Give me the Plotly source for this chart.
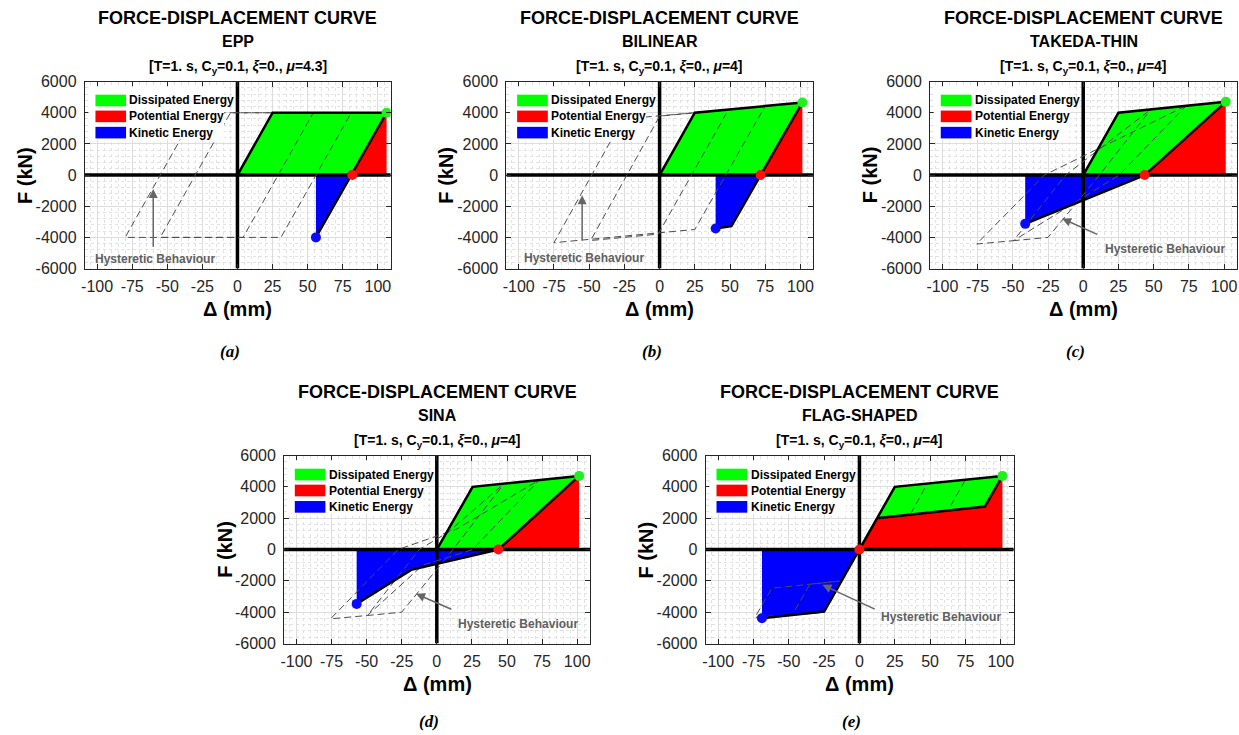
import plotly.graph_objects as go

W, H = 1239, 735
FONT = "Liberation Sans, Arial, Helvetica, sans-serif"
SERIF = "Liberation Serif, Times New Roman, serif"

# ---------------- data ----------------
x_ticks = [-100, -75, -50, -25, 0, 25, 50, 75, 100]
x_ticklabels = ["-100", "-75", "-50", "-25", "0", "25", "50", "75", "100"]
y_ticks = [-6000, -4000, -2000, 0, 2000, 4000, 6000]
y_ticklabels = ["-6000", "-4000", "-2000", "0", "2000", "4000", "6000"]
x_limits = [-108.8, 109.2]
y_limits = [-6000, 6000]

models = ["EPP", "BILINEAR", "TAKEDA-THIN", "SINA", "FLAG-SHAPED"]
mu_values = ["4.3", "4", "4", "4", "4"]
captions = ["(a)", "(b)", "(c)", "(d)", "(e)"]
legend_labels = ["Dissipated Energy", "Potential Energy", "Kinetic Energy"]

# EPP
epp_hyst_d = [0, 25, 54, 4, -55, -5, 81, 31, -80, -30, 25]
epp_hyst_f = [0, 4000, 4000, -4000, -4000, 4000, 4000, -4000, -4000, 4000, 4000]
epp_curve_d = [0, 25, 106.2, 55.9]
epp_curve_f = [0, 4000, 4000, -4000]
epp_diss_d = [0, 25, 106.2, 81.8]
epp_diss_f = [0, 4000, 4000, 0]
epp_pot_d = [81.8, 106.2, 106.2]
epp_pot_f = [0, 4000, 0]
epp_kin_d = [55.9, 81.8, 55.9]
epp_kin_f = [0, 0, -4000]
epp_pts_d = [106.2, 81.8, 55.9]
epp_pts_f = [4000, 0, -4000]

# BILINEAR
bil_hyst_d = [0, 25, 49, -1, -49, 0, 75, 25, -75, -26, 25]
bil_hyst_f = [0, 4000, 4210, -3790, -4200, 3780, 4435, -3490, -4340, 3600, 4000]
bil_curve_d = [0, 25, 101.4, 71.7, 51, 39.8]
bil_curve_f = [0, 4000, 4660, 0, -3277, -3426]
bil_diss_d = [0, 25, 101.4, 71.7]
bil_diss_f = [0, 4000, 4660, 0]
bil_pot_d = [71.7, 101.4, 101.4]
bil_pot_f = [0, 4660, 0]
bil_kin_d = [39.8, 71.7, 51, 39.8]
bil_kin_f = [0, 0, -3277, -3426]
bil_pts_d = [101.4, 71.7, 39.8]
bil_pts_f = [4660, 0, -3426]

# TAKEDA-THIN
tak_hyst_d = [0, 25, 48, 11.5, -25, -49.5, -12.5, 48, 73, 25.5, -49.5, -75.7, -27.6, 73, 101.2]
tak_hyst_f = [0, 4000, 4212, 0, -4000, -4210, 0, 4212, 4442, 0, -4210, -4425, 0, 4442, 4700]
tak_curve_d = [0, 25, 101.2, 43.6, -41.2]
tak_curve_f = [0, 4000, 4700, 0, -3130]
tak_diss_d = [0, 25, 101.2, 43.6]
tak_diss_f = [0, 4000, 4700, 0]
tak_pot_d = [43.6, 101.2, 101.2]
tak_pot_f = [0, 4700, 0]
tak_kin_d = [-41.2, 43.6, -41.2]
tak_kin_f = [0, 0, -3130]
tak_pts_d = [101.2, 43.6, -41.2]
tak_pts_f = [4700, 0, -3130]

# SINA
sin_hyst_d = [0, 25, 48, 11.5, -25, -49.5, -12.5, 8, 48, 73, 25.5, -10, -49.5, -75.7, -27.6, 14, 73, 101.4]
sin_hyst_f = [0, 4000, 4212, 0, -4000, -4210, 0, 1100, 4212, 4442, 0, -1000, -4210, -4425, 0, 1300, 4442, 4700]
sin_curve_d = [0, 25.5, 101.4, 43.8, -18.3, -57.1]
sin_curve_f = [0, 4000, 4700, 0, -1300, -3470]
sin_diss_d = [0, 25.5, 101.4, 43.8]
sin_diss_f = [0, 4000, 4700, 0]
sin_pot_d = [43.8, 101.4, 101.4]
sin_pot_f = [0, 4700, 0]
sin_kin_d = [-57.1, 43.8, -18.3, -57.1]
sin_kin_f = [0, 0, -1300, -3470]
sin_pts_d = [101.4, 43.8, -57.1]
sin_pts_f = [4700, 0, -3470]

# FLAG-SHAPED
flg_hyst_d = [0, 25, 48, 36, 12.5, 0, -25, -47.6, -35, -12.5, 0, 25, 75, 62.7, 12.5, 0, -25, -74, -62, -12.5, 0]
flg_hyst_f = [0, 4000, 4211, 2229, 2000, 0, -4000, -4180, -2210, -2000, 0, 4000, 4459, 2490, 2000, 0, -4000, -4330, -2470, -2000, 0]
flg_curve_d = [0, 12.5, 25, 101.2, 88.8, 12.5, 0, -25, -69]
flg_curve_f = [0, 2000, 4000, 4700, 2745, 2000, 0, -3960, -4380]
flg_diss_d = [12.5, 25, 101.2, 88.8]
flg_diss_f = [2000, 4000, 4700, 2745]
flg_pot_d = [0, 12.5, 88.8, 101.2, 101.2]
flg_pot_f = [0, 2000, 2745, 4700, 0]
flg_kin_d = [-69, 0, -25, -69]
flg_kin_f = [0, 0, -3960, -4380]
flg_pts_d = [101.2, 0, -69]
flg_pts_f = [4700, 0, -4380]

panels = [
    (epp_hyst_d, epp_hyst_f, epp_curve_d, epp_curve_f, epp_diss_d, epp_diss_f, epp_pot_d, epp_pot_f, epp_kin_d, epp_kin_f, epp_pts_d, epp_pts_f),
    (bil_hyst_d, bil_hyst_f, bil_curve_d, bil_curve_f, bil_diss_d, bil_diss_f, bil_pot_d, bil_pot_f, bil_kin_d, bil_kin_f, bil_pts_d, bil_pts_f),
    (tak_hyst_d, tak_hyst_f, tak_curve_d, tak_curve_f, tak_diss_d, tak_diss_f, tak_pot_d, tak_pot_f, tak_kin_d, tak_kin_f, tak_pts_d, tak_pts_f),
    (sin_hyst_d, sin_hyst_f, sin_curve_d, sin_curve_f, sin_diss_d, sin_diss_f, sin_pot_d, sin_pot_f, sin_kin_d, sin_kin_f, sin_pts_d, sin_pts_f),
    (flg_hyst_d, flg_hyst_f, flg_curve_d, flg_curve_f, flg_diss_d, flg_diss_f, flg_pot_d, flg_pot_f, flg_kin_d, flg_kin_f, flg_pts_d, flg_pts_f),
]

# ---------------- layout / style ----------------
# axes boxes in target pixels (left, right, top, bottom)
boxes = [(81, 388, 82, 269), (504, 812, 82, 269), (929, 1237, 82, 269),
         (281, 588, 456, 644), (704, 1013, 456, 644)]
# annotation arrow placement: head (x,y), tail (x,y), text (x,y) in data units
arrow_place = [
    ((-60, -900), (-60, -4700), (-59, -5380)),
    ((-55, -1300), (-55, -4280), (-54, -5340)),
    ((-15, -2790), (11, -3850), (58, -4745)),
    ((-14.8, -2830), (11.4, -3850), (58, -4745)),
    ((-26.2, -2255), (11.9, -3850), (58, -4280)),
]
fill_colors = ["#00ff00", "#ff0000", "#0000ff"]
dot_colors = ["#22ee22", "#ff1010", "#0a0aff"]

# the captured picture squeezes the page slightly in height; compensate
Y_OFF, Y_SCALE = 8.4, 0.977


def px(xp):
    return xp / W


def py(yp):
    return 1 - ((yp - Y_OFF) / Y_SCALE) / H


fig = go.Figure()
annotations = []
shapes = []
layout_axes = {}

for i, (pdat, box, arr) in enumerate(zip(panels, boxes, arrow_place)):
    n = i + 1
    xa = "x" if n == 1 else f"x{n}"
    ya = "y" if n == 1 else f"y{n}"
    xkey = "xaxis" if n == 1 else f"xaxis{n}"
    ykey = "yaxis" if n == 1 else f"yaxis{n}"
    (hd, hf, cd, cf, dd, dfv, pd_, pf, kd, kf, ptd, ptf) = pdat
    l, r, t, b = box

    common = dict(showline=True, linecolor="#262626", linewidth=1, mirror="ticks",
                  ticks="inside", ticklen=5, tickcolor="#262626", tickwidth=1,
                  showgrid=True, gridcolor="#dddddd", gridwidth=1, zeroline=False,
                  tickfont=dict(family=FONT, size=16, color="#262626"),
                  fixedrange=True)
    layout_axes[xkey] = dict(common, domain=[px(l), px(r)], range=x_limits, anchor=ya,
                             tickmode="array", tickvals=x_ticks, ticktext=x_ticklabels,
                             ticklabelstandoff=3,
                             minor=dict(tickmode="linear", tick0=0, dtick=5, showgrid=True,
                                        gridcolor="#e2e2e2", griddash="dot", ticks=""))
    layout_axes[ykey] = dict(common, domain=[py(b), py(t)], range=y_limits, anchor=xa,
                             tickmode="array", tickvals=y_ticks, ticktext=y_ticklabels,
                             ticklabelstandoff=4,
                             minor=dict(tickmode="linear", tick0=0, dtick=400, showgrid=True,
                                        gridcolor="#e2e2e2", griddash="dot", ticks=""))

    # fills
    for xs, ys, col in ((dd, dfv, fill_colors[0]), (pd_, pf, fill_colors[1]), (kd, kf, fill_colors[2])):
        fig.add_trace(go.Scatter(x=xs, y=ys, fill="toself", fillcolor=col, mode="lines",
                                 line=dict(width=0, color=col), xaxis=xa, yaxis=ya,
                                 showlegend=False, hoverinfo="skip"))
    # thick axes lines
    fig.add_trace(go.Scatter(x=x_limits, y=[0, 0], mode="lines", line=dict(color="black", width=3.5),
                             xaxis=xa, yaxis=ya, showlegend=False, hoverinfo="skip"))
    fig.add_trace(go.Scatter(x=[0, 0], y=y_limits, mode="lines", line=dict(color="black", width=3.5),
                             xaxis=xa, yaxis=ya, showlegend=False, hoverinfo="skip"))
    # hysteresis (dashed)
    fig.add_trace(go.Scatter(x=hd, y=hf, mode="lines",
                             line=dict(color="#4d4d4d", width=1, dash="7px,4px"),
                             xaxis=xa, yaxis=ya, showlegend=False, hoverinfo="skip"))
    # final curve
    fig.add_trace(go.Scatter(x=cd, y=cf, mode="lines", line=dict(color="black", width=2.5),
                             xaxis=xa, yaxis=ya, showlegend=False, hoverinfo="skip"))
    # points
    fig.add_trace(go.Scatter(x=ptd, y=ptf, mode="markers",
                             marker=dict(color=dot_colors, size=10, line=dict(width=0)),
                             xaxis=xa, yaxis=ya, showlegend=False, hoverinfo="skip"))

    # legend (custom, opaque white box)
    xdom = f"{xa} domain"
    ydom = f"{ya} domain"
    shapes.append(dict(type="rect", xref=xdom, yref=ydom, x0=0.012, x1=0.455,
                       y0=0.69, y1=0.975, fillcolor="white", line=dict(width=0), layer="above"))
    row_tops = [0.930, 0.845, 0.758]
    row_h = 0.062
    for lbl, col, yt in zip(legend_labels, fill_colors, row_tops):
        shapes.append(dict(type="rect", xref=xdom, yref=ydom, x0=0.035, x1=0.135,
                           y0=yt - row_h, y1=yt, fillcolor=col, line=dict(width=0), layer="above"))
        annotations.append(dict(xref=xdom, yref=ydom, x=0.139, y=yt - row_h / 2, text=f"<b>{lbl}</b>",
                                showarrow=False, xanchor="left", yanchor="middle",
                                font=dict(family=FONT, size=12, color="black")))

    # arrow + text
    (hx, hy), (tx, ty), (lx, ly) = arr
    annotations.append(dict(xref=xa, yref=ya, axref=xa, ayref=ya, x=hx, y=hy, ax=tx, ay=ty,
                            text="", showarrow=True, arrowhead=2, arrowsize=1.2, arrowwidth=1.5,
                            arrowcolor="#666666", standoff=0, startstandoff=0))
    annotations.append(dict(xref=xa, yref=ya, x=lx, y=ly, text="<b>Hysteretic Behaviour</b>",
                            showarrow=False, xanchor="center", yanchor="middle",
                            font=dict(family=FONT, size=12, color="#606060")))

    # titles
    cx = (l + r) / 2
    annotations.append(dict(xref="paper", yref="paper", x=px(cx), y=py(t - 64),
                            text="<b>FORCE-DISPLACEMENT CURVE</b>", showarrow=False,
                            xanchor="center", yanchor="middle",
                            font=dict(family=FONT, size=18, color="black")))
    annotations.append(dict(xref="paper", yref="paper", x=px(cx), y=py(t - 40),
                            text=f"<b>{models[i]}</b>", showarrow=False,
                            xanchor="center", yanchor="middle",
                            font=dict(family=FONT, size=16, color="black")))
    annotations.append(dict(xref="paper", yref="paper", x=px(cx), y=py(t - 15),
                            text=f"<b>[T=1. s, C<sub>y</sub>=0.1, <i>\u03be</i>=0., <i>\u03bc</i>={mu_values[i]}]</b>",
                            showarrow=False, xanchor="center", yanchor="middle",
                            font=dict(family=FONT, size=14, color="black")))
    # axis labels
    annotations.append(dict(xref="paper", yref="paper", x=px(l - 60), y=py((t + b) / 2),
                            text="<b>F (kN)</b>", showarrow=False, textangle=-90,
                            xanchor="center", yanchor="middle",
                            font=dict(family=FONT, size=20, color="black")))
    annotations.append(dict(xref="paper", yref="paper", x=px(cx), y=py(b + 40),
                            text="<b>\u0394 (mm)</b>", showarrow=False,
                            xanchor="center", yanchor="middle",
                            font=dict(family=FONT, size=20, color="black")))
    # caption
    cap_y = 352 if n <= 3 else 722
    annotations.append(dict(xref="paper", yref="paper", x=px(cx - 8), y=py(cap_y),
                            text=f"<b><i>{captions[i]}</i></b>", showarrow=False,
                            xanchor="center", yanchor="middle",
                            font=dict(family=SERIF, size=17, color="black")))

fig.update_layout(
    width=W, height=H, margin=dict(l=0, r=0, t=0, b=0),
    paper_bgcolor="white", plot_bgcolor="white",
    showlegend=False, annotations=annotations, shapes=shapes,
    font=dict(family=FONT),
    **layout_axes,
)

fig.write_html("out.html")
